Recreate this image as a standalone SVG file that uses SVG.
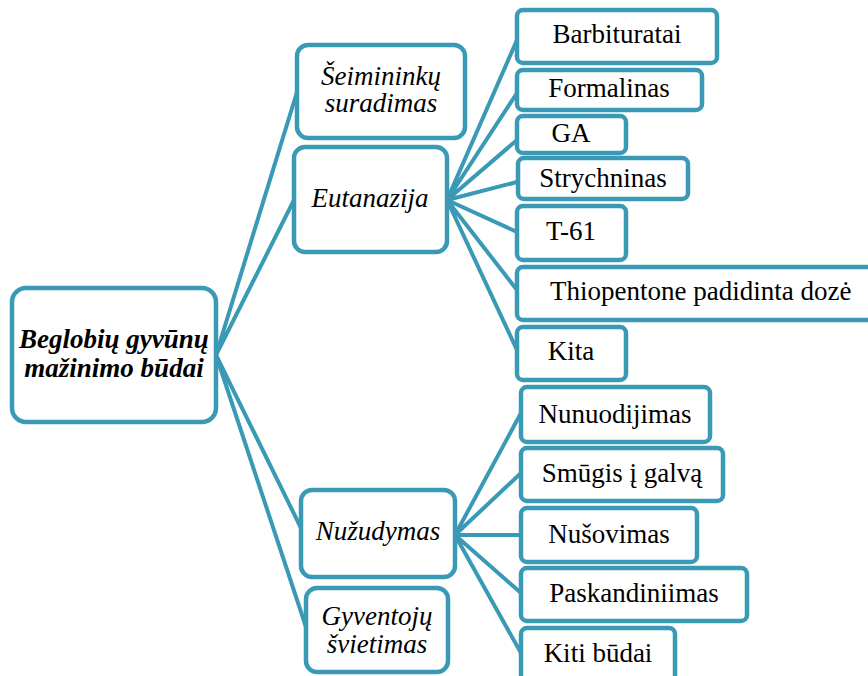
<svg xmlns="http://www.w3.org/2000/svg" width="868" height="676" viewBox="0 0 868 676">
<rect width="868" height="676" fill="#fff"/>
<g id="connectors" stroke="#3a9ab5" stroke-width="4" fill="none" stroke-linecap="round">
<path d="M216 355 L297 92 M216 355 L295 198 M216 355 L301 528 M216 355 L307 630"/>
<path d="M447 200 L517 40 M447 200 L517 93 M447 200 L517 140 M447 200 L517 182 M447 200 L517 232 M447 200 L517 290 M447 200 L517 350"/>
<path d="M455 535 L521 413 M455 535 L521 473 M455 535 L521 535 M455 535 L521 593 M455 535 L521 653"/>
</g>
<g id="nodes" font-family="Liberation Serif" font-size="27">
<g id="root"><rect fill="#fff" stroke="#3a9ab5" stroke-width="4.5" x="12" y="288" width="204" height="134" rx="14"/><text font-style="italic" font-weight="bold" text-anchor="middle" x="114" y="348">Beglobių gyvūnų</text><text font-style="italic" font-weight="bold" text-anchor="middle" x="114" y="377">mažinimo būdai</text></g>
<g id="seimininku"><rect fill="#fff" stroke="#3a9ab5" stroke-width="4.5" x="297" y="45" width="168" height="93" rx="11"/><text font-style="italic" text-anchor="middle" x="381" y="85">Šeimininkų</text><text font-style="italic" text-anchor="middle" x="381" y="112">suradimas</text></g>
<g id="eutanazija"><rect fill="#fff" stroke="#3a9ab5" stroke-width="4.5" x="294" y="147" width="153" height="105" rx="11"/><text font-style="italic" text-anchor="middle" x="370" y="207">Eutanazija</text></g>
<g id="nuzudymas"><rect fill="#fff" stroke="#3a9ab5" stroke-width="4.5" x="301" y="490" width="154" height="87" rx="11"/><text font-style="italic" text-anchor="middle" x="378" y="540">Nužudymas</text></g>
<g id="gyventoju"><rect fill="#fff" stroke="#3a9ab5" stroke-width="4.5" x="306" y="588" width="142" height="84" rx="11"/><text font-style="italic" text-anchor="middle" x="377" y="625">Gyventojų</text><text font-style="italic" text-anchor="middle" x="377" y="653">švietimas</text></g>
<g id="barbituratai"><rect fill="#fff" stroke="#3a9ab5" stroke-width="4.5" x="517" y="10" width="200" height="53" rx="6"/><text text-anchor="middle" x="617" y="43">Barbituratai</text></g>
<g id="formalinas"><rect fill="#fff" stroke="#3a9ab5" stroke-width="4.5" x="517" y="70" width="185" height="40" rx="6"/><text text-anchor="middle" x="609" y="97">Formalinas</text></g>
<g id="ga"><rect fill="#fff" stroke="#3a9ab5" stroke-width="4.5" x="517" y="116" width="109" height="37" rx="6"/><text text-anchor="middle" x="571" y="142">GA</text></g>
<g id="strychninas"><rect fill="#fff" stroke="#3a9ab5" stroke-width="4.5" x="518" y="158" width="170" height="41" rx="6"/><text text-anchor="middle" x="603" y="187">Strychninas</text></g>
<g id="t61"><rect fill="#fff" stroke="#3a9ab5" stroke-width="4.5" x="517" y="206" width="109" height="54" rx="6"/><text text-anchor="middle" x="571" y="240">T-61</text></g>
<g id="thiopentone"><rect fill="#fff" stroke="#3a9ab5" stroke-width="4.5" x="517" y="267" width="370" height="53" rx="6"/><text x="550" y="300">Thiopentone padidinta dozė</text></g>
<g id="kita"><rect fill="#fff" stroke="#3a9ab5" stroke-width="4.5" x="517" y="327" width="109" height="53" rx="6"/><text text-anchor="middle" x="571" y="360">Kita</text></g>
<g id="nunuodijimas"><rect fill="#fff" stroke="#3a9ab5" stroke-width="4.5" x="521" y="387" width="189" height="55" rx="6"/><text text-anchor="middle" x="615" y="423">Nunuodijimas</text></g>
<g id="smugis"><rect fill="#fff" stroke="#3a9ab5" stroke-width="4.5" x="521" y="448" width="202" height="53" rx="6"/><text text-anchor="middle" x="622" y="482">Smūgis į galvą</text></g>
<g id="nusovimas"><rect fill="#fff" stroke="#3a9ab5" stroke-width="4.5" x="521" y="508" width="176" height="54" rx="6"/><text text-anchor="middle" x="609" y="543">Nušovimas</text></g>
<g id="paskandiniimas"><rect fill="#fff" stroke="#3a9ab5" stroke-width="4.5" x="521" y="568" width="226" height="53" rx="6"/><text text-anchor="middle" x="634" y="602">Paskandiniimas</text></g>
<g id="kiti"><rect fill="#fff" stroke="#3a9ab5" stroke-width="4.5" x="521" y="628" width="154" height="60" rx="6"/><text text-anchor="middle" x="598" y="662">Kiti būdai</text></g>
</g>
</svg>
